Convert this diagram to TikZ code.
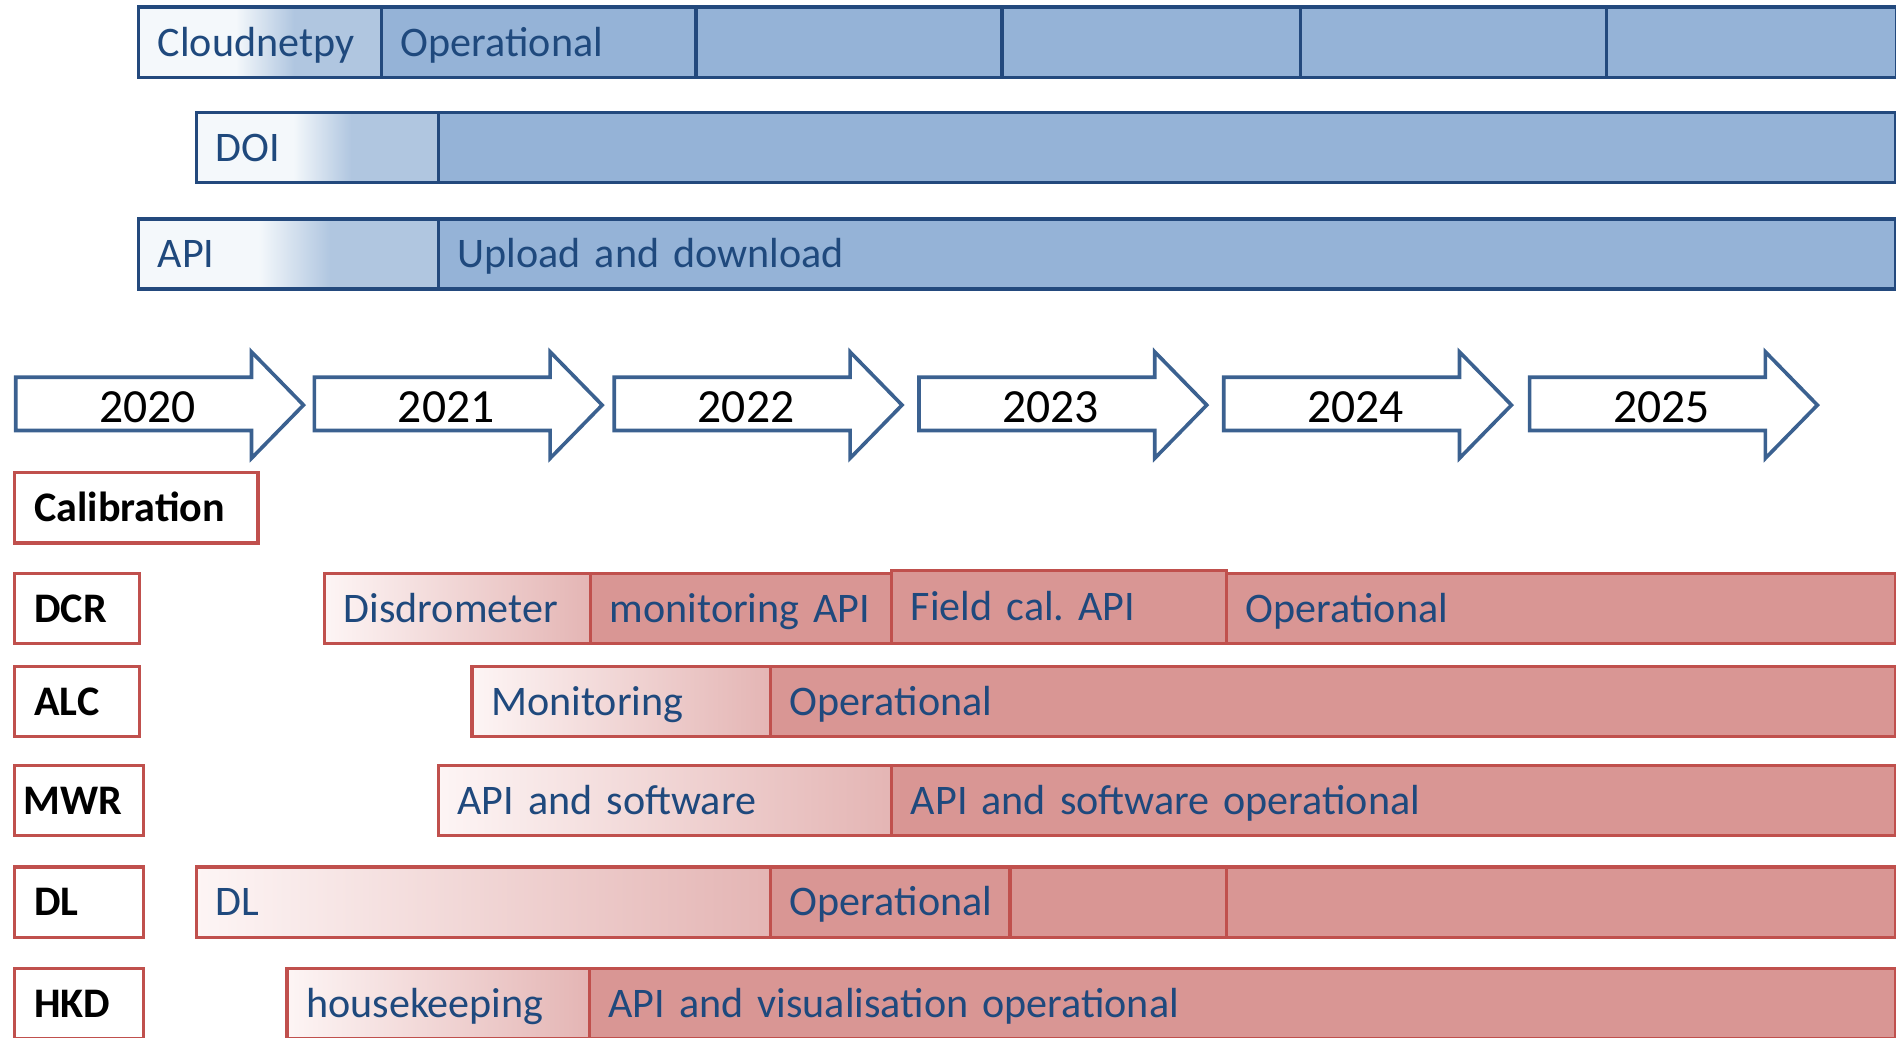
\documentclass[tikz,border=0pt]{standalone}
\usepackage{fontspec}
\setmainfont[WordSpace=0.8]{Carlito}
\usetikzlibrary{calc}

\definecolor{bluedark}{HTML}{23497D}
\definecolor{bluemid}{HTML}{95B3D7}
\definecolor{bluelight}{HTML}{B0C6E0}
\definecolor{bluepale}{HTML}{F4F8FB}
\definecolor{bluetext}{HTML}{1F497D}
\definecolor{arrowblue}{HTML}{3B6190}
\definecolor{redline}{HTML}{C0504D}
\definecolor{redmid}{HTML}{D99694}
\definecolor{redfade}{HTML}{E4B5B4}
\definecolor{redpale}{HTML}{FDF5F5}

\pgfdeclarehorizontalshading{bluefade}{100bp}{color(0bp)=(bluepale); color(45bp)=(bluepale); color(57bp)=(bluelight); color(100bp)=(bluelight)}

\hyphenpenalty=10000
\frenchspacing

\begin{document}
\begin{tikzpicture}[
    x=0.01cm, y=-0.01cm,
    seg/.style={anchor=west, minimum height=0.58cm, inner xsep=0.16cm, inner ysep=0pt,
                align=left, font=\fontsize{9.9}{12}\selectfont,
                text height=7.4pt, text depth=0.9pt,
                minimum width=#1cm, text width=#1cm-0.32cm},
    bluebar/.style={seg=#1, draw=bluedark, line width=0.85pt, fill=bluemid, text=bluetext},
    bluefadebar/.style={bluebar=#1, shade, shading=bluefade},
    redbar/.style={seg=#1, draw=redline, line width=0.75pt, fill=redmid, text=bluetext},
    redfadebar/.style={redbar=#1, left color=redpale, right color=redfade},
    rowlabel/.style={seg=#1, draw=redline, line width=0.75pt, fill=white, text=black,
                     font=\fontsize{9.9}{12}\selectfont\bfseries},
    yeararrow/.style={draw=arrowblue, line width=0.85pt, fill=white, line join=miter},
    yeartext/.style={font=\fontsize{11.2}{13}\selectfont, inner sep=0pt},
]
\clip (0,0) rectangle (1568,858);

% ---- Cloudnetpy / DOI / API ----
\node[bluefadebar=2.01] (cnp) at (113,35) {Cloudnetpy};
\node[bluebar=2.60] (cnpop) at (314,35) {Operational};
\node[bluebar=2.53] (cnp3) at (574,35) {};
\node[bluebar=2.47] (cnp4) at (827,35) {};
\node[bluebar=2.53] (cnp5) at (1074,35) {};
\node[bluebar=2.40] (cnp6) at (1327,35) {};

\node[bluefadebar=2.00] (doi) at (161,122) {DOI};
\node[bluebar=12.05] (doi2) at (361,122) {};

\node[bluefadebar=2.48] (api) at (113,210) {API};
\node[bluebar=12.05] (apiup) at (361,210) {Upload and download};

% ---- Years ----
\foreach \yr/\xo in {2020/13, 2021/260, 2022/508, 2023/760, 2024/1012, 2025/1265} {
  \draw[yeararrow] (\xo,312) -- (\xo+195,312) -- (\xo+195,291) -- (\xo+238,335)
    -- (\xo+195,379) -- (\xo+195,356) -- (\xo,356) -- cycle;
  \node[yeartext] (y\yr) at (\xo+109,337) {\yr};
}

% ---- Calibration rows ----
\node[rowlabel=2.01] (calib) at (11,420) {Calibration};

\node[rowlabel=1.03] (dcr) at (11,503) {DCR};
\node[redfadebar=2.20] (dcr1) at (267,503) {Disdrometer};
\node[redbar=2.49] (dcr2) at (487,503) {monitoring API};
\node[redbar=5.53] (dcr4) at (1013,503) {Operational};
\node[redbar=2.77, minimum height=0.60cm] (dcr3) at (736,502) {Field cal. API};

\node[rowlabel=1.03] (alc) at (11,580) {ALC};
\node[redfadebar=2.47] (alc1) at (389,580) {Monitoring};
\node[redbar=9.30] (alc2) at (636,580) {Operational};

\node[rowlabel=1.06, inner xsep=0.07cm, text width=0.92cm] (mwr) at (11,662) {MWR};
\node[redfadebar=3.75] (mwr1) at (361,662) {API and software};
\node[redbar=8.30] (mwr2) at (736,662) {API and software operational};

\node[rowlabel=1.06] (dl) at (11,746) {DL};
\node[redfadebar=4.75] (dl1) at (161,746) {DL};
\node[redbar=1.98] (dl2) at (636,746) {Operational};
\node[redbar=1.79] (dl3) at (834,746) {};
\node[redbar=5.53] (dl4) at (1013,746) {};

\node[rowlabel=1.06] (hkd) at (11,830) {HKD};
\node[redfadebar=2.50] (hkd1) at (236,830) {housekeeping};
\node[redbar=10.80] (hkd2) at (486,830) {API and visualisation operational};

\end{tikzpicture}
\end{document}
